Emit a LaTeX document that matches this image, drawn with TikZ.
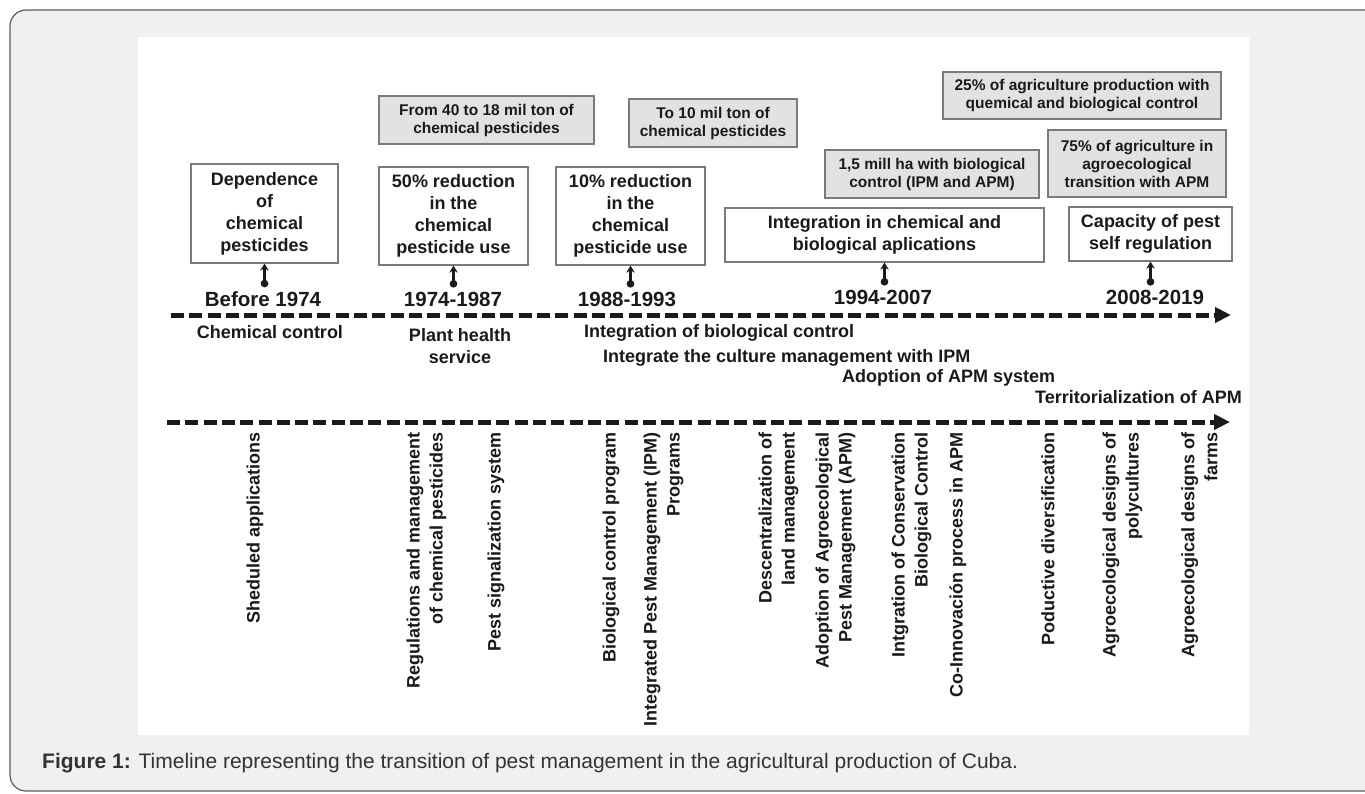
\documentclass[tikz,border=0pt]{standalone}
\usepackage{fontspec}
\setmainfont{Liberation Sans}
\usetikzlibrary{arrows.meta}
\definecolor{pagebg}{HTML}{EFF0F2}
\definecolor{framecol}{HTML}{5E5E5E}
\definecolor{boxedge}{HTML}{7A7A7A}
\definecolor{grayfill}{HTML}{E2E2E2}
\definecolor{ink}{HTML}{1A1A1A}
\definecolor{capink}{HTML}{333333}
\begin{document}
\begin{tikzpicture}[x=1pt,y=-1pt,
  wbox/.style={draw=boxedge, line width=1.3pt, fill=white, align=center, inner sep=0pt, text=ink,
    font=\bfseries\fontsize{18}{22}\selectfont},
  gbox/.style={draw=boxedge, line width=1.3pt, fill=grayfill, align=center, inner sep=0pt, text=ink,
    font=\bfseries\fontsize{15.5}{18}\selectfont},
  year/.style={inner sep=0pt, text=ink, font=\bfseries\fontsize{20.5}{24}\selectfont},
  lab/.style={inner sep=0pt, text=ink, align=center, font=\bfseries\fontsize{18}{22}\selectfont},
  vlab/.style={inner sep=0pt, text=ink, align=right, rotate=90, anchor=east,
    font=\bfseries\fontsize{18}{23}\selectfont},
  timeline/.style={line width=5pt, ink, dash pattern=on 13pt off 5.3pt,
    -{Triangle[length=16pt,width=15pt]}},
  mk/.style={line width=2.3pt, ink, {Circle[length=7.5pt]}-{Stealth[length=7pt,width=8.5pt]}, shorten <=4pt}
]
\clip (0,0) rectangle (1365,793);
\fill[white] (0,0) rectangle (1365,793);
\draw[framecol, fill=pagebg, line width=1.2pt, rounded corners=16pt] (10,10) rectangle (1400,791);
\fill[white] (138,37) rectangle (1249,735);

% upper gray boxes
\node[gbox, minimum width=215pt, minimum height=48pt] (g1) at (486.5,120) {From 40 to 18 mil ton of\\chemical pesticides};
\node[gbox, minimum width=168pt, minimum height=48pt] (g2) at (713,123) {To 10 mil ton of\\chemical pesticides};
\node[gbox, minimum width=214pt, minimum height=48pt] (g3) at (932,174) {1,5 mill ha with biological\\control (IPM and APM)};
\node[gbox, minimum width=278pt, minimum height=47pt] (g4) at (1082,95.5) {25\% of agriculture production with\\quemical and biological control};
\node[gbox, minimum width=178pt, minimum height=67pt] (g5) at (1137,163.5) {75\% of agriculture in\\agroecological\\transition with APM};

% white boxes
\node[wbox, minimum width=147pt, minimum height=99pt] (b1) at (264.5,213.5) {Dependence\\of\\chemical\\pesticides};
\node[wbox, minimum width=149pt, minimum height=98pt] (b2) at (453.5,216) {50\% reduction\\in the\\chemical\\pesticide use};
\node[wbox, minimum width=149pt, minimum height=98pt] (b3) at (630.5,216) {10\% reduction\\in the\\chemical\\pesticide use};
\node[wbox, minimum width=319pt, minimum height=54pt] (b4) at (884.5,235) {Integration in chemical and\\biological aplications};
\node[wbox, minimum width=163pt, minimum height=54pt] (b5) at (1150.5,234) {Capacity of pest\\self regulation};

% years
\node[year] (y1) at (263,299) {Before 1974};
\node[year] (y2) at (453,299) {1974-1987};
\node[year] (y3) at (627,299) {1988-1993};
\node[year] (y4) at (883,297) {1994-2007};
\node[year] (y5) at (1155,297) {2008-2019};

% markers
\draw[mk] (b1.south |- y1.north) -- (b1.south);
\draw[mk] (b2.south |- y2.north) -- (b2.south);
\draw[mk] (b3.south |- y3.north) -- (b3.south);
\draw[mk] (b4.south |- y4.north) -- (b4.south);
\draw[mk] (b5.south |- y5.north) -- (b5.south);

% timelines
\coordinate (l1s) at (171,315);
\coordinate (l1e) at (1231,315);
\coordinate (l2s) at (167,422);
\coordinate (l2e) at (1230,422);
\draw[timeline] (l1s) -- (l1e);
\draw[timeline] (l2s) -- (l2e);

% labels between lines
\node[lab] (c1) at (270,332) {Chemical control};
\node[lab] (c2) at (460,346) {Plant health\\service};
\node[lab, anchor=west] (c3) at (584,333) {Integration of biological control};
\node[lab, anchor=west] (c4) at (603,358) {Integrate the culture management with IPM};
\node[lab, anchor=west] (c5) at (842,378) {Adoption of APM system};
\node[lab, anchor=west] (c6) at (1035,397) {Territorialization of APM};

% vertical labels
\node[vlab] (v1) at (255,432) {Sheduled applications};
\node[vlab] (v2) at (426.5,432) {Regulations and management\\of chemical pesticides};
\node[vlab] (v3) at (496,432) {Pest signalization system};
\node[vlab] (v4) at (611,432) {Biological control program};
\node[vlab] (v5) at (663.5,432) {Integrated Pest Management (IPM)\\Programs};
\node[vlab] (v6) at (778.5,432) {Descentralization of\\land management};
\node[vlab] (v7) at (835.5,432) {Adoption of Agroecological\\Pest Management (APM)};
\node[vlab] (v8) at (911.5,432) {Intgration of Conservation\\Biological Control};
\node[vlab] (v9) at (958,432) {Co-Innovación process in APM};
\node[vlab] (v10) at (1048,432) {Poductive diversification};
\node[vlab] (v11) at (1122.5,432) {Agroecological designs of\\polycultures};
\node[vlab] (v12) at (1199.5,432) {Agroecological designs of\\farms};

% caption
\node[anchor=west, inner sep=0pt, text=capink, font=\fontsize{21}{25}\selectfont] (cap) at (42,763)
  {{\bfseries Figure 1:} Timeline representing the transition of pest management in the agricultural production of Cuba.};
\end{tikzpicture}
\end{document}
